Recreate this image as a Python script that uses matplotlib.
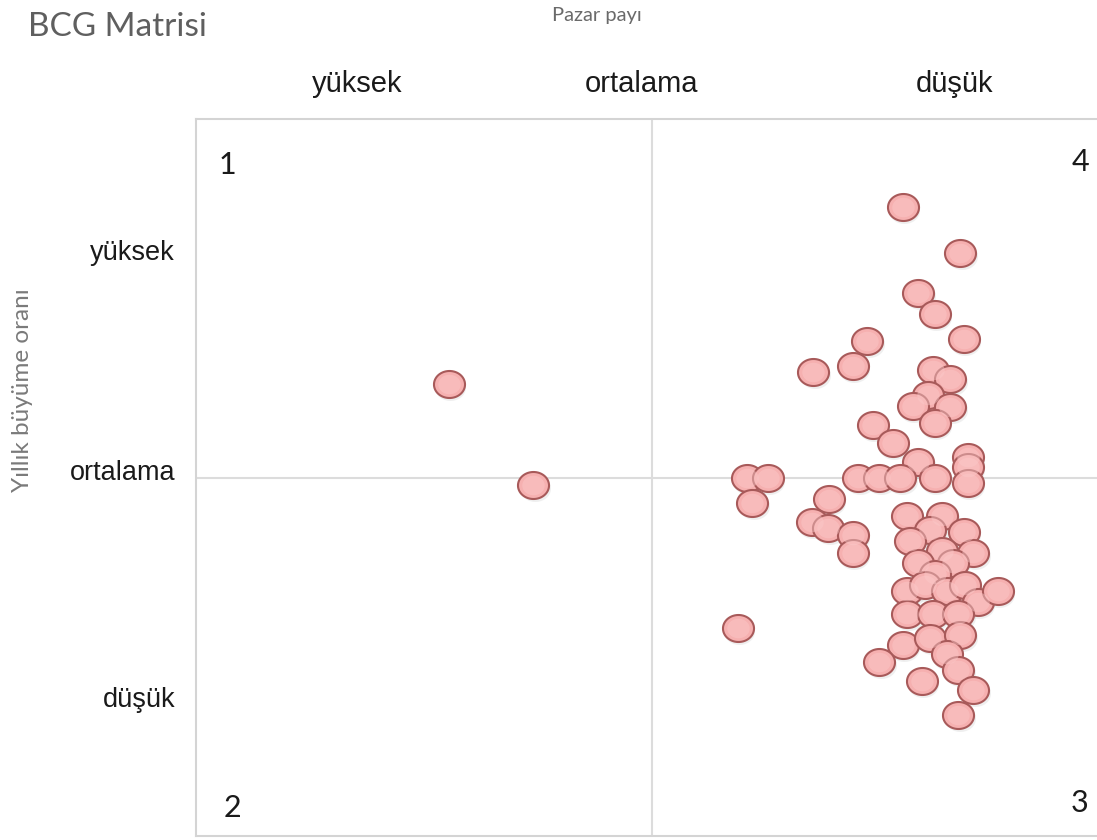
import numpy as np
import matplotlib
matplotlib.use("Agg")
import matplotlib.pyplot as plt
from matplotlib.path import Path
from matplotlib.transforms import offset_copy

# ---- data (scores 0-100; x: position along market-share axis, y: growth) ----
x_ticklabels = ["yüksek", "ortalama", "düşük"]
x_tickpos = [17.7, 48.8, 83.2]
y_ticklabels = ["yüksek", "ortalama", "düşük"]
y_tickpos = [81.7, 51.0, 19.4]

share = [27.7, 37.0,
         77.5, 83.8, 79.2, 81.0, 73.6, 84.2, 72.0, 67.7, 80.8, 82.7, 80.3, 78.6,
         82.7, 81.0, 74.2, 76.4, 84.6, 84.6, 79.2,
         60.4, 62.7, 72.6, 74.9, 77.2, 81.0, 84.6, 61.0, 69.4, 67.5, 69.3, 72.0, 72.0,
         78.0, 81.8, 80.5, 84.2, 78.3, 81.8, 85.2, 79.2, 83.0, 81.0,
         78.0, 79.9, 82.3, 84.3, 85.7, 87.9, 78.0, 80.8, 83.6,
         77.5, 80.5, 83.8, 82.3, 74.9, 79.6, 83.6, 85.2, 83.6, 59.4]
growth = [63.0, 49.0,
          87.7, 81.3, 75.7, 72.8, 69.0, 69.3, 65.6, 64.7, 65.0, 63.7, 61.5, 60.0,
          59.8, 57.6, 57.3, 54.8, 52.9, 51.5, 52.2,
          50.0, 50.0, 50.0, 50.0, 50.0, 50.0, 49.2, 46.4, 47.0, 43.8, 43.0, 42.0, 39.5,
          44.7, 44.7, 42.7, 42.4, 41.1, 39.7, 39.5, 38.1, 38.1, 36.6,
          34.2, 35.0, 34.2, 35.0, 32.6, 34.2, 31.0, 31.0, 31.0,
          26.6, 27.6, 28.0, 25.4, 24.3, 21.6, 23.2, 20.4, 16.9, 29.0]

W, H = 1097, 840
fig = plt.figure(figsize=(W / 100, H / 100), dpi=100)
fig.patch.set_facecolor("white")

# axes box: left 196px, right 1108px (cut by figure edge), top 119px, bottom 836px
ax = fig.add_axes([196 / W, (H - 836) / H, 912 / W, 717 / H])
ax.set_xlim(0, 100)
ax.set_ylim(0, 100)
for s in ax.spines.values():
    s.set_color("#d4d4d4")
    s.set_linewidth(1.5)

ax.axvline(50, color="#dcdcdc", lw=1.5, zorder=1)
ax.axhline(50, color="#dcdcdc", lw=1.5, zorder=1)

# ellipse marker
t = np.linspace(0, 2 * np.pi, 60)
verts = np.column_stack([np.cos(t), 0.87 * np.sin(t)])
ell = Path(verts, closed=True)

shadow_tr = offset_copy(ax.transData, fig=fig, x=1.5, y=-3, units="dots")
ax.scatter(share, growth, s=500, marker=ell, color="#9a9a9a", alpha=0.15,
           linewidths=0, transform=shadow_tr, zorder=2, clip_on=False)
ax.scatter(share, growth, s=500, marker=ell, facecolor="#f6b0b0",
           edgecolor="#a85a5a", linewidths=1.5, zorder=3, clip_on=False)
# soft central highlight
ax.scatter(share, growth, s=260, marker=ell, facecolor="#fbcaca", alpha=0.45,
           linewidths=0, zorder=4, clip_on=False)

ax.xaxis.tick_top()
ax.set_xticks(x_tickpos)
ax.set_xticklabels(x_ticklabels, fontsize=21, family="Liberation Sans", color="#1a1a1a")
ax.set_yticks(y_tickpos)
ax.set_yticklabels(y_ticklabels, fontsize=19.5, family="Liberation Sans", color="#1a1a1a")
ax.tick_params(axis="x", length=0, pad=15)
ax.tick_params(axis="y", length=0, pad=15)

# quadrant numbers
qfont = dict(fontsize=22, family="Lato", color="#1a1a1a", va="center")
fig.text(227 / W, 1 - 165 / H, "1", ha="center", **qfont)
fig.text(1080 / W, 1 - 162 / H, "4", ha="center", **qfont)
fig.text(232 / W, 1 - 808 / H, "2", ha="center", **qfont)
fig.text(1080 / W, 1 - 803 / H, "3", ha="center", **qfont)

# titles
fig.text(28 / W, 1 - 27 / H, "BCG Matrisi", fontsize=24, family="Lato",
         color="#5f5f5f", ha="left", va="center")
fig.text(597 / W, 1 - 16 / H, "Pazar payı", fontsize=14.5, family="Lato",
         color="#6a6a6a", ha="center", va="center")
fig.text(23 / W, 1 - 390 / H, "Yıllık büyüme oranı", fontsize=17.5, family="Lato",
         color="#7a7a7a", ha="center", va="center", rotation=90)

fig.savefig("out.png", dpi=100)
